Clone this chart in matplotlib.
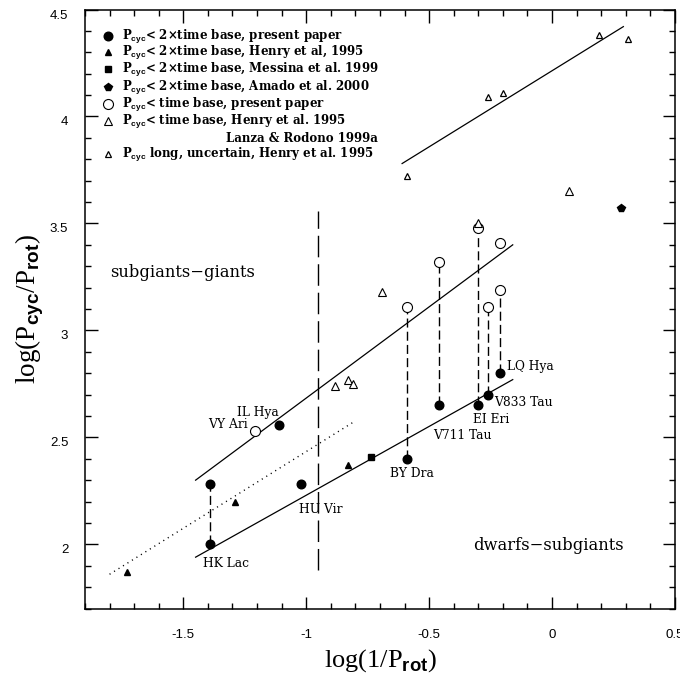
import matplotlib
matplotlib.use('Agg')
import matplotlib.pyplot as plt
from matplotlib.ticker import FixedLocator, FixedFormatter, MultipleLocator
from matplotlib.transforms import Bbox, TransformedBbox

plt.rcParams['mathtext.fontset'] = 'custom'
plt.rcParams['mathtext.rm'] = 'Liberation Serif'
plt.rcParams['mathtext.sf'] = 'Liberation Sans:bold'
plt.rcParams['axes.unicode_minus'] = False

# P_cyc < 2 x time base, present paper (filled circles)
fc_x = [-1.39, -1.39, -1.02, -1.11, -0.59, -0.46, -0.30, -0.26, -0.21]
fc_y = [2.00, 2.28, 2.28, 2.56, 2.40, 2.65, 2.65, 2.70, 2.80]
# P_cyc < 2 x time base, Henry et al. 1995 (filled triangles)
ft_x = [-1.73, -1.29, -0.83]
ft_y = [1.87, 2.20, 2.37]
# Messina et al. 1999 (square), Amado et al. 2000 (pentagon)
sq_x = [-0.735]
sq_y = [2.41]
pe_x = [0.28]
pe_y = [3.57]
# P_cyc < time base, present paper (open circles)
oc_x = [-1.21, -0.59, -0.46, -0.30, -0.26, -0.21, -0.21]
oc_y = [2.53, 3.11, 3.32, 3.48, 3.11, 3.19, 3.41]
# P_cyc < time base, Henry et al. 1995 (open triangles)
ot_x = [-0.885, -0.83, -0.81, -0.69, -0.30, 0.07]
ot_y = [2.74, 2.77, 2.75, 3.18, 3.50, 3.65]
# P_cyc long, uncertain (small open triangles)
st_x = [-0.59, -0.26, -0.20, 0.19, 0.31]
st_y = [3.72, 4.09, 4.11, 4.38, 4.36]

# same star, two cycles -> dashed connectors
link_x = [-1.39, -0.59, -0.46, -0.30, -0.26, -0.21]
link_lo = [2.00, 2.40, 2.65, 2.65, 2.70, 2.80]
link_hi = [2.28, 3.11, 3.32, 3.48, 3.11, 3.19]

# fitted relations
dwarf_x = [-1.45, -0.16]
dwarf_y = [1.94, 2.77]
giant_x = [-1.45, -0.16]
giant_y = [2.30, 3.40]
dot_x = [-1.80, -0.81]
dot_y = [1.86, 2.57]
long_x = [-0.61, 0.29]
long_y = [3.78, 4.42]
split_x = -0.954
split_y = [1.88, 3.56]

star_names = ['IL Hya', 'VY Ari', 'HK Lac', 'HU Vir', 'BY Dra',
              'V711 Tau', 'EI Eri', 'V833 Tau', 'LQ Hya']
star_lx = [-1.283, -1.40, -1.42, -1.031, -0.661, -0.484, -0.323, -0.235, -0.184]
star_ly = [2.618, 2.562, 1.912, 2.161, 2.329, 2.507, 2.585, 2.663, 2.831]

xticks = [-1.5, -1.0, -0.5, 0.0, 0.5]
xlabels = ['-1.5', '-1', '-0.5', '0', '0.5']
yticks = [2.0, 2.5, 3.0, 3.5, 4.0, 4.5]
ylabels = ['2', '2.5', '3', '3.5', '4', '4.5']

fig = plt.figure(figsize=(6.96, 6.79), dpi=100)
ax = fig.add_axes([0.1221, 0.1038, 0.8477, 0.8822])

ax.plot(dwarf_x, dwarf_y, color='black', lw=0.9)
ax.plot(giant_x, giant_y, color='black', lw=0.9)
ax.plot(long_x, long_y, color='black', lw=0.9)
ax.plot(dot_x, dot_y, color='black', lw=1.0, dashes=(0.8, 3.0))
ax.plot([split_x, split_x], split_y, color='black', lw=1.0, dashes=(15.5, 5.0))
for x, lo, hi in zip(link_x, link_lo, link_hi):
    ax.plot([x, x], [lo, hi], color='black', lw=1.0, dashes=(6.5, 3.0))

ax.plot(fc_x, fc_y, 'o', ms=6.2, color='black', zorder=5)
ax.plot(ft_x, ft_y, '^', ms=4.8, color='black', zorder=5)
ax.plot(sq_x, sq_y, 's', ms=4.8, color='black', zorder=5)
ax.plot(pe_x, pe_y, 'p', ms=6.0, color='black', zorder=5)
ax.plot(oc_x, oc_y, 'o', ms=7.2, mfc='white', mec='black', mew=0.8, zorder=5)
ax.plot(ot_x, ot_y, '^', ms=6.2, mfc='white', mec='black', mew=0.8, zorder=5)
ax.plot(st_x, st_y, '^', ms=3.8, mfc='white', mec='black', mew=0.9, zorder=5)

for name, x, y in zip(star_names, star_lx, star_ly):
    ax.text(x, y, name, fontsize=8.8, family='DejaVu Serif', va='center', ha='left')

ax.text(-1.799, 3.273, 'subgiants\u2212giants', fontsize=11.8, family='DejaVu Serif', va='center')
ax.text(-0.32, 1.995, 'dwarfs\u2212subgiants', fontsize=11.8, family='DejaVu Serif', va='center')

# legend drawn by hand, as in the original
leg_rows = [0.9558, 0.9285, 0.9002, 0.8712, 0.8422, 0.8144, 0.7860, 0.7588]
leg_text = ['P$_{\\mathsf{cyc}}$< 2\u00d7time base, present paper',
            'P$_{\\mathsf{cyc}}$< 2\u00d7time base, Henry et al, 1995',
            'P$_{\\mathsf{cyc}}$< 2\u00d7time base, Messina et al. 1999',
            'P$_{\\mathsf{cyc}}$< 2\u00d7time base, Amado et al. 2000',
            'P$_{\\mathsf{cyc}}$< time base, present paper',
            'P$_{\\mathsf{cyc}}$< time base, Henry et al. 1995',
            'Lanza & Rodono 1999a',
            'P$_{\\mathsf{cyc}}$ long, uncertain, Henry et al. 1995']
leg_style = [dict(marker='o', ms=6.2, color='black'),
             dict(marker='^', ms=4.8, color='black'),
             dict(marker='s', ms=4.8, color='black'),
             dict(marker='p', ms=6.0, color='black'),
             dict(marker='o', ms=7.2, mfc='white', mec='black', mew=0.8),
             dict(marker='^', ms=6.2, mfc='white', mec='black', mew=0.8),
             None,
             dict(marker='^', ms=3.8, mfc='white', mec='black', mew=0.9)]
for row, txt, st in zip(leg_rows, leg_text, leg_style):
    tx = 0.0622
    if st is None:
        tx = 0.239
    else:
        ax.plot([0.0395], [row], transform=ax.transAxes, ls='none', clip_on=False, **st)
    ax.text(tx, row - 0.0067, txt, transform=ax.transAxes, fontsize=8.5,
            family='DejaVu Serif', fontweight='bold', va='baseline')

ax.set_xlim(-1.9, 0.5)
ax.set_ylim(1.70, 4.5)
ax.xaxis.set_major_locator(FixedLocator(xticks))
ax.xaxis.set_major_formatter(FixedFormatter(xlabels))
ax.yaxis.set_major_locator(FixedLocator(yticks))
ax.yaxis.set_major_formatter(FixedFormatter(ylabels))
ax.xaxis.set_minor_locator(MultipleLocator(0.1))
ax.yaxis.set_minor_locator(MultipleLocator(0.1))
ax.tick_params(which='both', direction='in', top=True, right=True, width=1.0)
ax.tick_params(which='major', length=9)
ax.tick_params(which='minor', length=4.5)
ax.tick_params(axis='x', pad=15)
ax.tick_params(axis='y', pad=12)
for lab in ax.get_xticklabels() + ax.get_yticklabels():
    lab.set_family('Liberation Sans')
    lab.set_fontsize(9.5)
for sp in ax.spines.values():
    sp.set_linewidth(1.1)

ax.set_xlabel('log(1/P$_{\\mathsf{rot}}$)', fontsize=19, family='Liberation Serif')
ax.set_ylabel('log(P$_{\\mathsf{cyc}}$/P$_{\\mathsf{rot}}$)', fontsize=19.5, family='Liberation Serif')
ax.yaxis.set_label_coords(-0.066, 0.50)
ax.xaxis.set_label_coords(0.5, -0.064)

fig.canvas.draw()
# y tick labels sit a little below their ticks in the source
for lab in ax.get_yticklabels():
    lab.set_va('top')
# the right-most tick label is cut off in the source picture
last = ax.xaxis.get_major_ticks()[-1].label1
last.set_clip_box(TransformedBbox(Bbox([[0, 0], [680 / 696, 1]]), fig.transFigure))
last.set_clip_on(True)

fig.savefig('out.png', dpi=100)
